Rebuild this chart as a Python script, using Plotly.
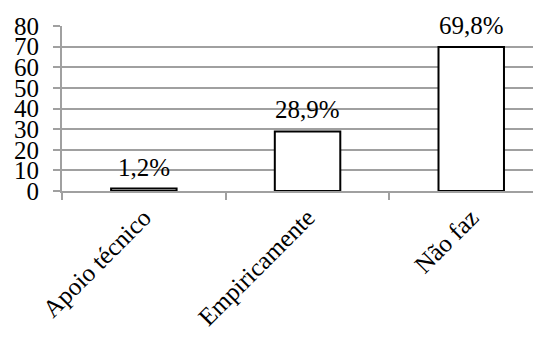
import plotly.graph_objects as go

categories = ["Apoio técnico", "Empiricamente", "Não faz"]
values = [1.2, 28.9, 69.8]
labels = ["1,2%", "28,9%", "69,8%"]
y_ticks = [0, 10, 20, 30, 40, 50, 60, 70, 80]

FONT = "Liberation Serif, Times New Roman, Liberation Sans"
GRID = "#a0a0a0"

fig = go.Figure()
fig.add_trace(go.Bar(
    x=categories, y=values, width=0.4,
    marker=dict(color="white", line=dict(color="black", width=2)),
    hoverinfo="skip",
))
for c, v, t in zip(categories, values, labels):
    fig.add_annotation(x=c, y=v, text=t, showarrow=False, yanchor="bottom",
                       yshift=6, font=dict(family=FONT, size=25, color="black"))

fig.update_layout(
    width=541, height=342,
    margin=dict(l=54, r=0, t=18, b=159, autoexpand=False),
    paper_bgcolor="white", plot_bgcolor="white",
    showlegend=False,
    font=dict(family=FONT, size=25, color="black"),
)
fig.update_xaxes(
    type="category", range=[-0.5, 2.475], automargin=False,
    tickson="boundaries", ticks="outside", ticklen=7, tickcolor=GRID, tickwidth=2,
    showgrid=False, showline=True, linecolor=GRID, linewidth=2,
    tickangle=-45, tickfont=dict(family=FONT, size=25, color="black"),
)
fig.update_yaxes(
    range=[0, 80], tickvals=y_ticks, ticks="outside", ticklen=7, tickcolor=GRID, tickwidth=2,
    showgrid=True, gridcolor=GRID, gridwidth=2, showline=True, linecolor=GRID, linewidth=2,
    zeroline=False, ticklabelstandoff=9, automargin=False,
    tickfont=dict(family=FONT, size=25, color="black"),
)
fig.write_html("out.html")
